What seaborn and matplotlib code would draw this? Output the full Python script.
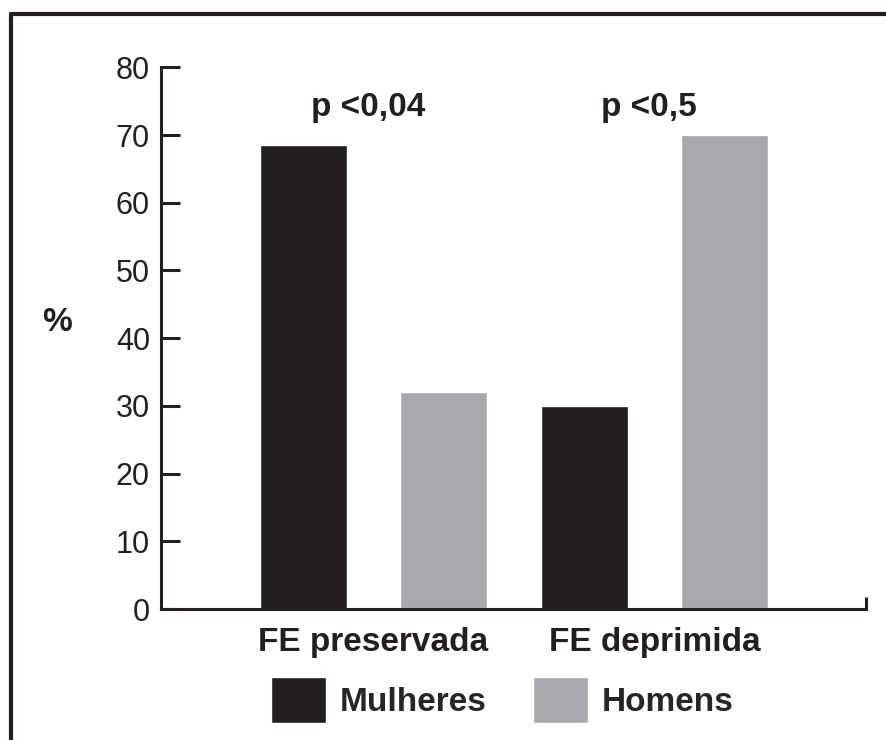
import numpy as np
import matplotlib
matplotlib.use('Agg')
import matplotlib.pyplot as plt
import matplotlib.lines as mlines
import pandas as pd
import seaborn as sns

categories = ['FE preservada', 'FE deprimida']
mulheres = [68.5, 30]
homens = [32, 70]
p_labels = ['p <0,04', 'p <0,5']
p_y = 74

df = pd.DataFrame({
    'grupo': categories * 2,
    'sexo': ['Mulheres'] * len(categories) + ['Homens'] * len(categories),
    'pct': mulheres + homens,
})

sns.set_style('white')
plt.rcParams['font.family'] = ['Liberation Sans', 'DejaVu Sans']
dark = '#231f20'
grey = '#a7a9ac'

fig = plt.figure(figsize=(8.87, 7.4), dpi=100)
ax = fig.add_axes([0.1815, 0.177, 0.7948, 0.732])

sns.barplot(data=df, x='grupo', y='pct', hue='sexo',
            palette={'Mulheres': dark, 'Homens': grey},
            width=1.0, gap=0.38, saturation=1, ax=ax)

handles, labels = ax.get_legend_handles_labels()
ax.legend_.remove()

ax.set_ylim(0, 80)
ax.set_xlim(-0.756, 1.753)
ax.set_yticks(np.arange(0, 81, 10))
ax.tick_params(axis='y', left=True, direction='in', length=14, width=2.2,
               color=dark, labelsize=22, pad=8, labelcolor=dark)
ax.tick_params(axis='x', which='major', length=0, labelsize=24, pad=13,
               labelcolor=dark)
for t in ax.get_xticklabels():
    t.set_fontweight('bold')

# small closing tick at right end of x axis
ax.set_xticks([1.753], minor=True)
ax.tick_params(axis='x', which='minor', bottom=True, direction='in',
               length=9, width=2.2, color=dark)

ax.set_xlabel('')
ax.set_ylabel('%', rotation=0, fontsize=24, fontweight='bold', color=dark)
ax.yaxis.set_label_coords(-0.147, 0.5)

for side in ['top', 'right']:
    ax.spines[side].set_visible(False)
for side in ['left', 'bottom']:
    ax.spines[side].set_linewidth(2.2)
    ax.spines[side].set_color(dark)

for i, lab in enumerate(p_labels):
    ax.text(i - 0.02, p_y, lab, ha='center', va='center', fontsize=24,
            fontweight='bold', color=dark)

fig.legend(handles, labels, loc='center', bbox_to_anchor=(0.566, 0.054),
           ncol=2, frameon=False, handlelength=1.66, handleheight=1.75,
           handletextpad=0.4, columnspacing=1.4,
           prop={'size': 24, 'weight': 'bold'})

# frame of the original figure panel
fig.add_artist(mlines.Line2D([0.0125, 0.0125], [0.0, 0.981], color=dark, lw=3))
fig.add_artist(mlines.Line2D([0.0125, 1.0], [0.981, 0.981], color=dark, lw=3))

fig.savefig('out.png', dpi=100)
